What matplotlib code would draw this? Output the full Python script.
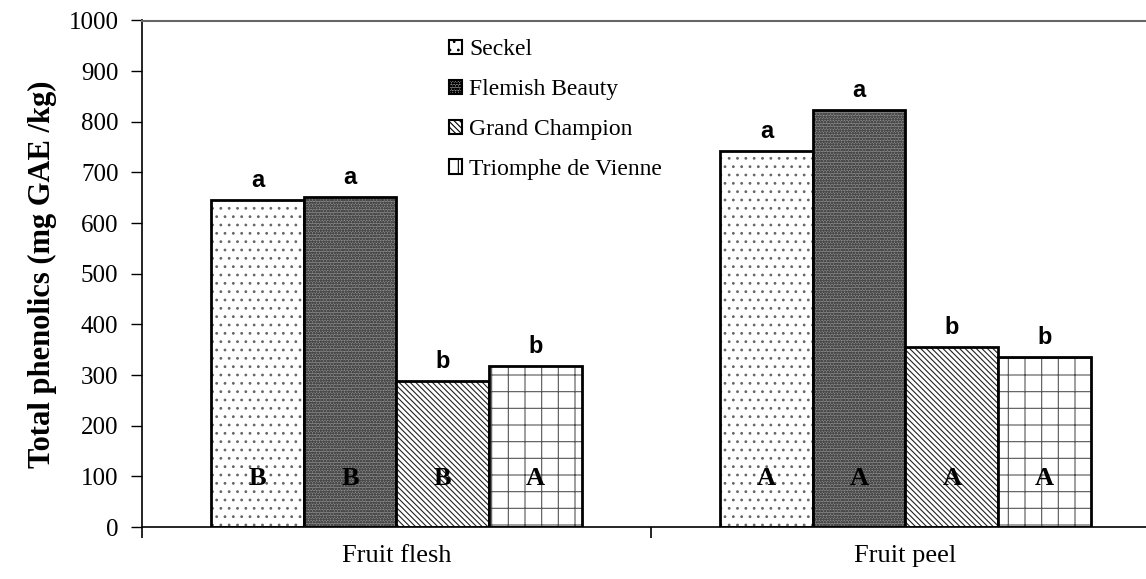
import numpy as np
import matplotlib
matplotlib.use("Agg")
import matplotlib.pyplot as plt
from matplotlib.patches import Patch

plt.rcParams["font.family"] = ["Liberation Serif", "DejaVu Serif"]
plt.rcParams["hatch.linewidth"] = 0.8

groups = ["Fruit flesh", "Fruit peel"]
cultivars = ["Seckel", "Flemish Beauty", "Grand Champion", "Triomphe de Vienne"]
flesh = [645, 651, 288, 318]
peel = [742, 823, 355, 335]
top_letters = [["a", "a", "b", "b"], ["a", "a", "b", "b"]]
inner_letters = [["B", "B", "B", "A"], ["A", "A", "A", "A"]]

styles = [  # facecolor, hatch, hatch colour
    ("white", "..", "#666666"),
    ("#8a8a8a", "oooooo", "#4a4a4a"),
    ("white", "\\\\\\\\\\\\", "#222222"),
    ("white", "+", "#555555"),
]

fig = plt.figure(figsize=(11.46, 5.79), dpi=100)
ax = fig.add_axes([142/1146, 52/579, 1018/1146, 506.5/579])

vals = np.array([flesh, peel])
x = np.arange(len(groups))
w = 0.182
for i, c in enumerate(cultivars):
    pos = x + (i - 1.5) * w
    fc, h, hc = styles[i]
    ax.bar(pos, vals[:, i], w, color=fc, hatch=h, edgecolor=hc, linewidth=0)
    ax.bar(pos, vals[:, i], w, fill=False, edgecolor="black", linewidth=2)
    for g in range(len(groups)):
        ax.text(pos[g], vals[g, i] + 16, top_letters[g][i], ha="center", va="bottom",
                fontsize=17, fontweight="bold", family="Liberation Sans")
        ax.text(pos[g], 95, inner_letters[g][i], ha="center", va="center",
                fontsize=19, fontweight="bold")

ax.set_xlim(-0.5, 1.5)
ax.set_ylim(0, 1000)
ax.set_yticks(np.arange(0, 1001, 100))
ax.set_xticks(x)
ax.set_xticklabels(groups, fontsize=19)
ax.set_xticks([-0.5, 0.5, 1.5], minor=True)
ax.tick_params(axis="x", which="major", length=0, pad=13)
ax.tick_params(axis="x", which="minor", length=8, width=1.2, direction="out")
ax.tick_params(axis="y", labelsize=18, length=8, width=1, direction="out", pad=9)
ax.set_ylabel("Total phenolics (mg GAE /kg)", fontsize=22, fontweight="bold", labelpad=8)
ax.spines["right"].set_visible(False)
ax.spines["top"].set_color("#666666")
ax.spines["top"].set_linewidth(1.5)
ax.spines["left"].set_linewidth(1.2)
ax.spines["bottom"].set_linewidth(1.2)

handles = [Patch(facecolor=styles[i][0], hatch=styles[i][1], edgecolor="black", linewidth=1.5)
           for i in range(len(cultivars))]
ax.legend(handles, cultivars, loc="upper left", bbox_to_anchor=(0.281, 1.005), frameon=False,
          fontsize=17, handlelength=0.55, handleheight=0.55, handletextpad=0.3, labelspacing=0.8)

fig.savefig("out.png", dpi=100)
